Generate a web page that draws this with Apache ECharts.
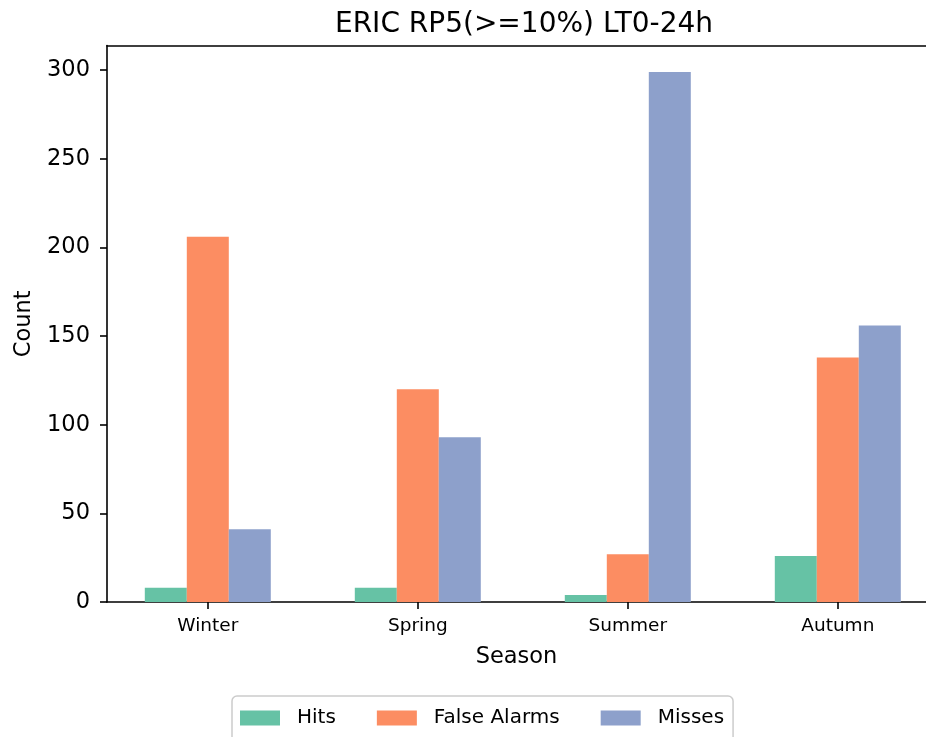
<!DOCTYPE html>
<html>
<head>
<meta charset="utf-8">
<script src="https://cdn.jsdelivr.net/npm/echarts@6/dist/echarts.min.js"></script>
<style>html,body{margin:0;padding:0;background:#fff}#c{width:926px;height:737px}</style>
</head>
<body>
<div id="c"></div>
<script>
var categories = ['Winter', 'Spring', 'Summer', 'Autumn'];
var hits = [8, 8, 4, 26];
var falseAlarms = [206, 120, 27, 138];
var misses = [41, 93, 299, 156];
var yTicks = [0, 50, 100, 150, 200, 250, 300];
var seriesNames = ['Hits', 'False Alarms', 'Misses'];
var colors = ['#66c2a5', '#fc8d62', '#8da0cb'];

var FONT = 'DejaVu Sans';
var offsets = [-0.2, 0, 0.2];
var allSeries = [hits, falseAlarms, misses];
var xTickVals = categories.map(function (c, i) { return i; });

var chart = echarts.init(document.getElementById('c'), null, {renderer: 'canvas'});
chart.setOption({
  animation: false,
  backgroundColor: '#fff',
  color: colors,
  title: {
    text: 'ERIC RP5(>=10%) LT0-24h',
    left: 519,
    textAlign: 'center',
    top: 6,
    textStyle: {fontFamily: FONT, fontSize: 28, fontWeight: 'normal', color: '#000'}
  },
  legend: {
    left: 232,
    top: 696,
    padding: [12, 9, 16, 8],
    itemWidth: 40,
    itemHeight: 15,
    itemGap: 41,
    icon: 'rect',
    borderColor: '#cccccc',
    borderWidth: 1.5,
    borderRadius: 5,
    textStyle: {fontFamily: FONT, fontSize: 20, color: '#000', padding: [0, 0, 0, 12]},
    data: seriesNames
  },
  grid: {
    left: 107,
    right: 0,
    top: 45.5,
    bottom: 135,
    show: false,
    containLabel: false
  },
  xAxis: [{
    type: 'value',
    min: -0.48,
    max: 3.42,
    name: 'Season',
    nameLocation: 'middle',
    nameGap: 44,
    nameTextStyle: {fontFamily: FONT, fontSize: 22.5, color: '#000'},
    axisLine: {show: true, onZero: false, lineStyle: {color: '#000', width: 1.6}},
    axisTick: {show: true, customValues: xTickVals, length: 7, lineStyle: {color: '#000', width: 1.6}},
    axisLabel: {
      customValues: xTickVals,
      margin: 15,
      fontFamily: FONT, fontSize: 18.5, color: '#000',
      formatter: function (v) { return categories[Math.round(v)] || ''; }
    },
    splitLine: {show: false}
  }, {
    type: 'value',
    position: 'top',
    min: -0.48,
    max: 3.42,
    axisLine: {show: true, onZero: false, lineStyle: {color: '#000', width: 1.6}},
    axisTick: {show: false},
    axisLabel: {show: false},
    splitLine: {show: false}
  }],
  yAxis: {
    type: 'value',
    min: 0,
    max: 313.95,
    name: 'Count',
    nameLocation: 'middle',
    nameGap: 70,
    nameTextStyle: {fontFamily: FONT, fontSize: 22.5, color: '#000'},
    axisLine: {show: true, onZero: false, lineStyle: {color: '#000', width: 1.6}},
    axisTick: {show: true, customValues: yTicks, length: 7, lineStyle: {color: '#000', width: 1.6}},
    axisLabel: {customValues: yTicks, margin: 17, fontFamily: FONT, fontSize: 22.5, color: '#000'},
    splitLine: {show: false}
  },
  series: allSeries.map(function (vals, s) {
    return {
      name: seriesNames[s],
      type: 'bar',
      xAxisIndex: 0,
      barWidth: 42,
      barGap: '-100%',
      itemStyle: {color: colors[s]},
      data: vals.map(function (v, i) { return [i + offsets[s], v]; })
    };
  })
});
</script>
</body>
</html>
